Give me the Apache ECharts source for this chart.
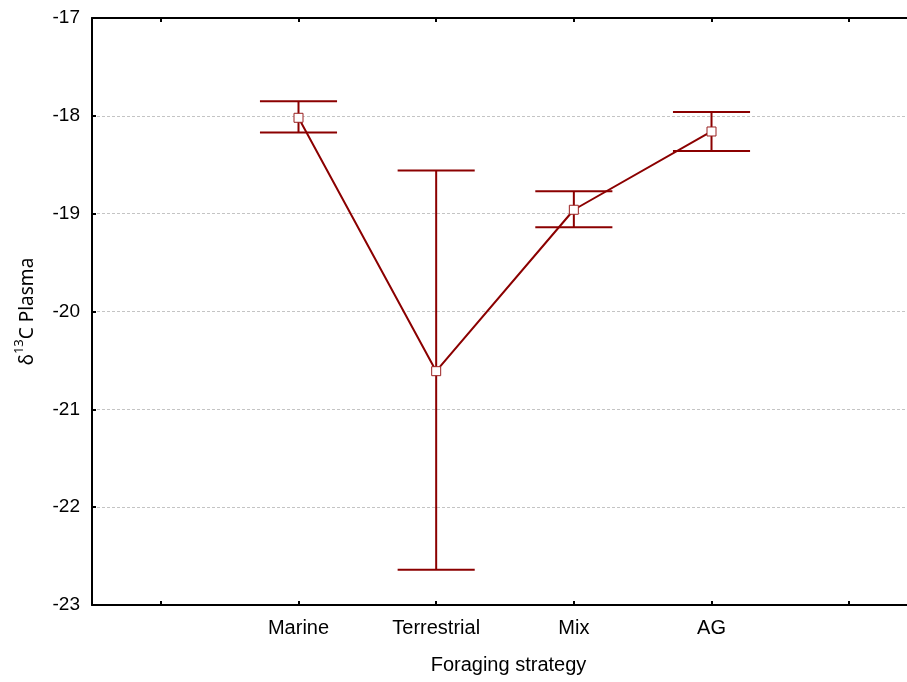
<!DOCTYPE html>
<html>
<head>
<meta charset="utf-8">
<script src="https://cdn.jsdelivr.net/npm/echarts@6/dist/echarts.min.js"></script>
<style>
  html, body { margin: 0; padding: 0; background: #fff; }
  #chart { width: 907px; height: 682px; }
</style>
</head>
<body>
<div id="chart"></div>
<script>
// Foraging strategy groups and their plasma δ13C summary values
const categories = ['Marine', 'Terrestrial', 'Mix', 'AG'];
const means = [-18.02, -20.61, -18.96, -18.16];
const upper = [-17.85, -18.56, -18.77, -17.96];
const lower = [-18.17, -22.64, -19.14, -18.36];
const yTicks = [-23, -22, -21, -20, -19, -18, -17];

// group positions on the x scale, with an empty slot on each side
const xPos = categories.map((c, i) => i + 1);
const xTickPos = [0].concat(xPos, [categories.length + 1]);

const RED = '#8b0000';

const errData = xPos.map((x, i) => [x, lower[i], upper[i]]);
const meanData = xPos.map((x, i) => [x, means[i]]);

const chart = echarts.init(document.getElementById('chart'), null, { renderer: 'canvas' });

const xCommon = {
  type: 'value',
  min: -0.5,
  max: 5.42,
  axisLine: { show: true, onZero: false, lineStyle: { color: '#000', width: 2 } },
  axisTick: { show: true, inside: true, length: 4, customValues: xTickPos, lineStyle: { color: '#000', width: 2 } },
  splitLine: { show: false }
};

chart.setOption({
  animation: false,
  backgroundColor: '#fff',
  grid: { left: 92, top: 18, right: 0, bottom: 77, containLabel: false },
  xAxis: [
    Object.assign({}, xCommon, {
      position: 'bottom',
      name: 'Foraging strategy',
      nameLocation: 'middle',
      nameGap: 50,
      nameTextStyle: { fontFamily: 'Liberation Sans', fontSize: 20, color: '#000', padding: [0, 0, 0, 18] },
      axisLabel: {
        margin: 13, fontFamily: 'Liberation Sans', fontSize: 20, color: '#000',
        customValues: xPos,
        formatter: function (v) { return categories[Math.round(v) - 1] || ''; }
      }
    }),
    Object.assign({}, xCommon, {
      position: 'top',
      axisLabel: { show: false }
    })
  ],
  yAxis: {
    type: 'value',
    min: yTicks[0],
    max: yTicks[yTicks.length - 1],
    interval: 1,
    name: '{d|δ}{s|13}{d|C Plasma}',
    nameLocation: 'middle',
    nameGap: 55,
    nameTextStyle: {
      color: '#000',
      rich: {
        d: { fontFamily: 'Noto Sans', fontSize: 19, color: '#000', lineHeight: 24, verticalAlign: 'bottom' },
        s: { fontFamily: 'Noto Sans', fontSize: 13, color: '#000', lineHeight: 24, verticalAlign: 'top' }
      }
    },
    axisLine: { show: true, onZero: false, lineStyle: { color: '#000', width: 2 } },
    axisTick: { show: true, inside: true, length: 4, lineStyle: { color: '#000', width: 2 } },
    axisLabel: { margin: 12, fontFamily: 'Liberation Sans', fontSize: 19, color: '#000' },
    splitLine: { show: true, lineStyle: { color: '#c4c4c4', width: 1, type: [3, 2] } }
  },
  series: [
    {
      type: 'custom',
      xAxisIndex: 0,
      data: errData,
      z: 2,
      renderItem: function (params, api) {
        const x = api.value(0);
        const lo = api.coord([x, api.value(1)]);
        const hi = api.coord([x, api.value(2)]);
        const half = api.size([1, 0])[0] * 0.28;
        const style = { stroke: RED, lineWidth: 2, fill: null };
        return {
          type: 'group',
          children: [
            { type: 'line', shape: { x1: lo[0], y1: lo[1], x2: hi[0], y2: hi[1] }, style: style },
            { type: 'line', shape: { x1: hi[0] - half, y1: hi[1], x2: hi[0] + half, y2: hi[1] }, style: style },
            { type: 'line', shape: { x1: lo[0] - half, y1: lo[1], x2: lo[0] + half, y2: lo[1] }, style: style }
          ]
        };
      }
    },
    {
      type: 'line',
      xAxisIndex: 0,
      data: meanData,
      z: 3,
      symbol: 'rect',
      symbolSize: 9,
      showAllSymbol: true,
      lineStyle: { color: RED, width: 2 },
      itemStyle: { color: '#fff', borderColor: '#9a2020', borderWidth: 1 }
    }
  ]
});
</script>
</body>
</html>
